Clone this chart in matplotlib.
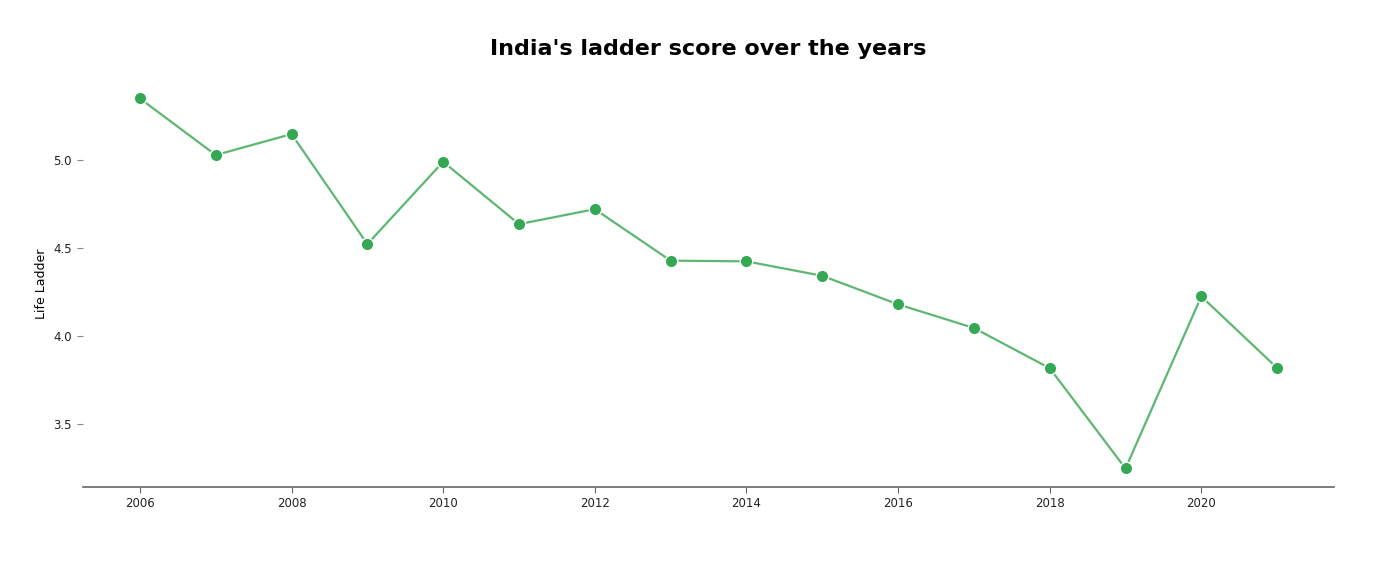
import matplotlib
matplotlib.use("Agg")
import matplotlib.pyplot as plt

years = [2006, 2007, 2008, 2009, 2010, 2011, 2012, 2013, 2014, 2015,
         2016, 2017, 2018, 2019, 2020, 2021]
ladder = [5.348, 5.027, 5.146, 4.522, 4.989, 4.635, 4.720, 4.428, 4.424, 4.342,
          4.180, 4.046, 3.818, 3.249, 4.225, 3.819]

fig = plt.figure(figsize=(13.89, 5.62), dpi=100)
ax = fig.add_axes([0.0598, 0.1335, 0.9006, 0.7242])

ax.plot(years, ladder, color="#5cb870", lw=1.6, zorder=2)
ax.plot(years, ladder, "o", color="#34a853", ms=9, mec="white", mew=1, zorder=3)

ax.set_xticks(range(2006, 2022, 2))
ax.set_yticks([3.5, 4.0, 4.5, 5.0])
ax.tick_params(axis="both", labelsize=8.5, colors="#222222")
ax.tick_params(axis="y", length=4, color="#888888", pad=4)
ax.tick_params(axis="x", length=4, color="#666666")
for s in ["top", "right", "left"]:
    ax.spines[s].set_visible(False)
ax.spines["bottom"].set_color("#666666")
ax.spines["bottom"].set_linewidth(1.2)

ax.set_ylabel("Life Ladder", fontsize=9)
ax.set_title("India's ladder score over the years", fontsize=16,
             fontweight="bold", pad=18)

fig.savefig("out.png", dpi=100)
